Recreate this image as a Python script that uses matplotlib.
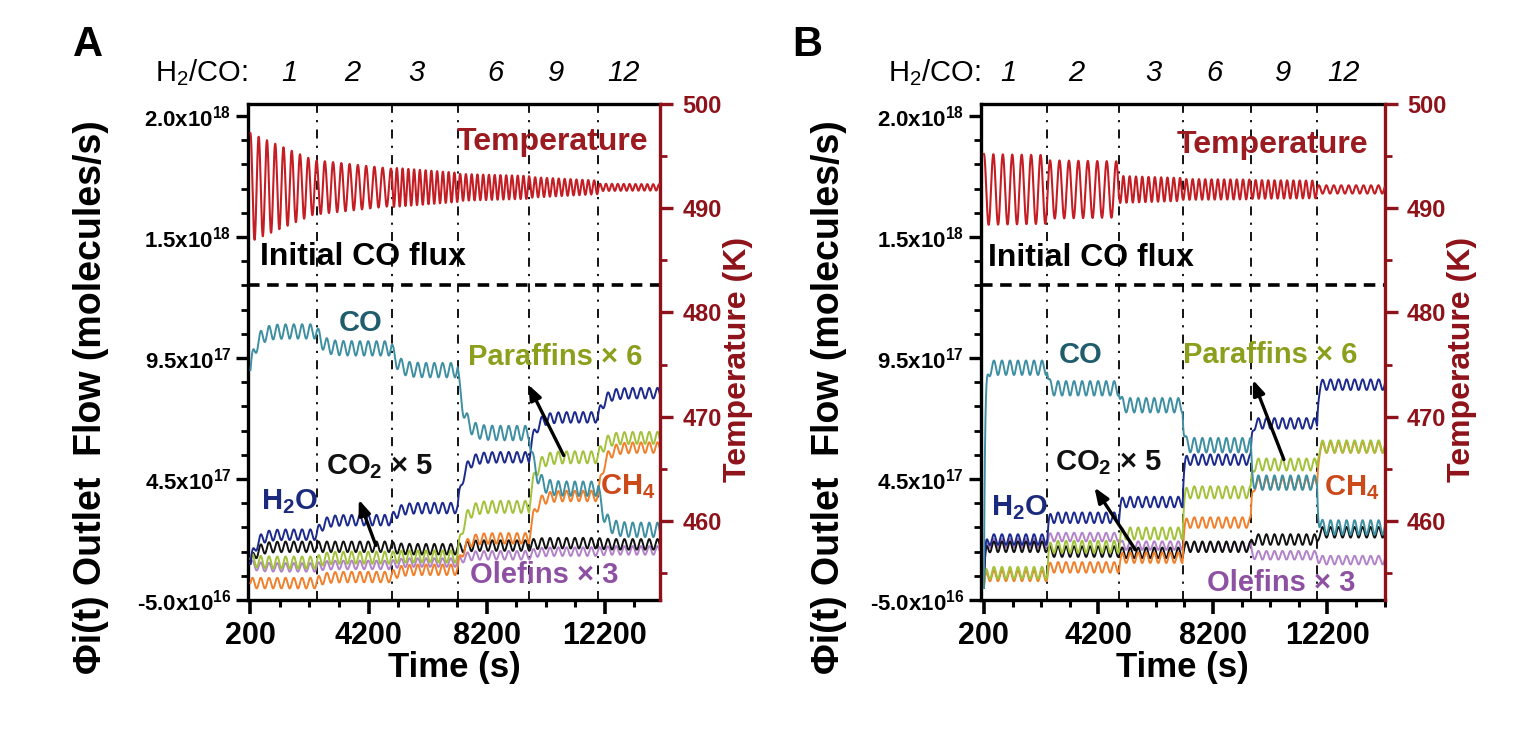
import numpy as np
import matplotlib
matplotlib.use('Agg')
import matplotlib.pyplot as plt
from matplotlib.ticker import FixedLocator
import matplotlib.transforms as mtransforms

plt.rcParams['font.family'] = ['Liberation Sans', 'DejaVu Sans']
plt.rcParams['font.weight'] = 'bold'
plt.rcParams['axes.labelweight'] = 'bold'
plt.rcParams['mathtext.default'] = 'regular'

# ---------------- data (flows in units of 1e17 molecules/s) ----------------
h2co_ratio = ['1', '2', '3', '6', '9', '12']
flow_ticks = [-0.5, 4.5, 9.5, 14.5, 19.5]
flow_tick_labels = ['-5.0x10$^{16}$', '4.5x10$^{17}$', '9.5x10$^{17}$',
                    '1.5x10$^{18}$', '2.0x10$^{18}$']
time_ticks = [200, 4200, 8200, 12200]
temp_ticks = [460, 470, 480, 490, 500]
initial_co_flux = 12.5

# panel A
edges_a = [200, 2440, 4980, 7220, 9640, 11980, 14075]
co_a = [10.6, 9.9, 9.0, 6.4, 4.1, 2.4]
h2o_a = [2.2, 2.8, 3.3, 5.4, 7.05, 8.05]
co2_a = [1.7, 1.7, 1.6, 1.75, 1.85, 1.8]
par_a = [1.05, 1.25, 1.3, 3.35, 5.4, 6.2]
ch4_a = [0.2, 0.45, 0.75, 2.05, 3.8, 5.8]
ole_a = [0.85, 0.95, 1.05, 1.35, 1.5, 1.55]
start_a = {'co': 9.0, 'h2o': 1.0, 'co2': 1.0, 'par': 1.2, 'ch4': 0.2, 'ole': 1.0}
temp_mean_a = 492.0
temp_amp_start_a = [5.2, 2.6, 1.9, 1.3, 1.0, 0.35]
temp_amp_end_a = [2.5, 1.8, 1.4, 1.1, 0.65, 0.3]
temp_period_a = [280, 280, 195, 195, 200, 200]

# panel B
edges_b = [200, 2410, 4920, 7140, 9520, 11840, 14207]
co_b = [9.1, 8.25, 7.55, 5.9, 4.35, 2.5]
h2o_b = [2.0, 2.9, 3.55, 5.3, 6.8, 8.4]
co2_b = [1.7, 1.5, 1.45, 1.7, 2.0, 2.3]
par_b = [0.62, 1.7, 2.25, 3.95, 5.1, 5.85]
ch4_b = [0.5, 0.85, 1.25, 2.7, 4.3, 5.8]
ole_b = [1.85, 2.1, 1.75, 1.7, 1.35, 1.15]
start_b = {'co': 0.0, 'h2o': 0.0, 'co2': 0.0, 'par': 0.0, 'ch4': 0.0, 'ole': 0.0}
temp_mean_b = 491.8
temp_amp_start_b = [3.4, 2.8, 1.3, 1.0, 0.9, 0.4]
temp_amp_end_b = [3.3, 2.7, 1.1, 0.95, 0.85, 0.4]
temp_period_b = [330, 330, 220, 220, 220, 260]

colors = {'co': '#3f8fa2', 'h2o': '#1b2a8c', 'co2': '#111111',
          'par': '#a2c23c', 'ch4': '#f0802c', 'ole': '#b383c9'}
temp_color = '#c41e24'
axis_red = '#8e1219'


def flow_trace(t, edges, start, levels, amp, period, tau):
    base = np.zeros_like(t)
    prev = start
    for i, lev in enumerate(levels):
        m = (t >= edges[i]) & (t <= edges[i + 1])
        base[m] = lev + (prev - lev) * np.exp(-(t[m] - edges[i]) / tau)
        prev = lev
    wave = amp * np.sin(2 * np.pi * (t - edges[0]) / period)
    return (base + wave) * 1e17


def temp_trace(t, edges, mean, amp0, amp1, period):
    amp = np.zeros_like(t)
    per = np.ones_like(t)
    for i in range(len(period)):
        m = (t >= edges[i]) & (t <= edges[i + 1])
        frac = (t[m] - edges[i]) / (edges[i + 1] - edges[i])
        amp[m] = amp0[i] + (amp1[i] - amp0[i]) * frac
        per[m] = period[i]
    phase = np.concatenate([[0], np.cumsum(2 * np.pi * np.diff(t) / per[1:])])
    return mean + amp * np.cos(phase)


fig = plt.figure(figsize=(15.18, 7.45), dpi=100)


def draw_panel(rect, letter, letter_xy, edges, series, starts, tau, temp, xlim,
               ratio_x, txt, ylabel_x, tlabel_x):
    ax = fig.add_axes(rect)
    t = np.arange(edges[0], edges[-1] + 1, 6.0)
    amps = {'co': 0.3, 'h2o': 0.22, 'co2': 0.22, 'par': 0.25, 'ch4': 0.22, 'ole': 0.18}
    for key in ['ole', 'co2', 'ch4', 'par', 'h2o', 'co']:
        y = flow_trace(t, edges, starts[key], series[key], amps[key], 280, tau)
        ax.plot(t, y, color=colors[key], lw=1.4, zorder=3)

    for x in edges[1:-1]:
        ax.axvline(x, color='black', lw=1.3, ls=(0, (5, 4, 1.2, 4)), zorder=2)
    ax.axhline(initial_co_flux * 1e17, color='black', lw=2.6, ls=(0, (3.2, 2.1)), zorder=4)

    ax.set_xlim(*xlim)
    ax.set_ylim(-0.5e17, 20.0e17)
    ax.set_xticks(time_ticks)
    ax.set_xticklabels([str(v) for v in time_ticks], fontsize=22)
    ax.xaxis.set_minor_locator(FixedLocator(np.arange(200, xlim[1], 1000)))
    ax.set_yticks(np.array(flow_ticks) * 1e17)
    ax.set_yticklabels(flow_tick_labels, fontsize=16)
    ax.yaxis.set_minor_locator(FixedLocator(np.arange(-0.5, 20.1, 1.0) * 1e17))
    ax.tick_params(axis='x', which='major', length=10, width=2.6, pad=5)
    ax.tick_params(axis='x', which='minor', length=5, width=2.2)
    ax.tick_params(axis='y', which='major', length=9, width=2.4, pad=3)
    ax.tick_params(axis='y', which='minor', length=5, width=2.0)
    for s in ['left', 'bottom', 'top']:
        ax.spines[s].set_linewidth(2.4)
    ax.spines['right'].set_visible(False)
    ax.set_xlabel('Time (s)', fontsize=25, fontweight='bold', labelpad=0)

    ax2 = ax.twinx()
    tt = np.arange(edges[0], edges[-1] + 1, 6.0)
    ax2.plot(tt, temp_trace(tt, edges, *temp), color=temp_color, lw=1.5, zorder=3)
    ax2.set_ylim(452.4, 500)
    ax2.set_yticks(temp_ticks)
    ax2.set_yticklabels([str(v) for v in temp_ticks], fontsize=17, color=axis_red)
    ax2.yaxis.set_minor_locator(FixedLocator([455, 465, 475, 485, 495]))
    ax2.tick_params(axis='y', which='major', length=9, width=2.4, color=axis_red, pad=7)
    ax2.tick_params(axis='y', which='minor', length=5, width=2.0, color=axis_red)
    ax2.spines['right'].set_color(axis_red)
    ax2.spines['right'].set_linewidth(2.4)
    for s in ['left', 'bottom', 'top']:
        ax2.spines[s].set_visible(False)

    # annotations
    ax.text(txt['temp'][0], txt['temp'][1] * 1e17, 'Temperature', color='#9b1b20',
            fontsize=23, ha='right', va='center', zorder=5)
    ax.text(txt['flux'][0], txt['flux'][1] * 1e17, 'Initial CO flux', color='black',
            fontsize=23, ha='left', va='center', zorder=5)
    labels = [('co', 'CO', '#1f5d6d'), ('h2o', 'H$_2$O', '#1b2a7c'),
              ('co2', 'CO$_2$ × 5', '#111111'), ('par', 'Paraffins × 6', '#8c9f1c'),
              ('ch4', 'CH$_4$', '#cc4a1a'), ('ole', 'Olefins × 3', '#8e50a2')]
    for key, s, c in labels:
        ax.text(txt[key][0], txt[key][1] * 1e17, s, color=c, fontsize=21,
                ha='center', va='center', zorder=5)
    for key in ['arr_co2', 'arr_par']:
        (x0, y0), (x1, y1) = txt[key]
        ax.annotate('', xy=(x1, y1 * 1e17), xytext=(x0, y0 * 1e17),
                    arrowprops=dict(arrowstyle='-|>,head_length=0.9,head_width=0.35',
                                    color='black', lw=2.4), zorder=6)

    # H2/CO ratios above the axes
    trans = mtransforms.blended_transform_factory(ax.transData, ax.transAxes)
    ax.text(0.0, 1.063, 'H$_2$/CO:', transform=ax.transAxes, ha='right', va='center',
            fontsize=21, fontweight='normal')
    for x, r in zip(ratio_x, h2co_ratio):
        ax.text(x, 1.063, r, transform=trans, ha='center', va='center', fontsize=21,
                fontweight='normal', style='italic')

    fig.text(letter_xy[0], letter_xy[1], letter, fontsize=30, ha='center', va='center')
    fig.text(ylabel_x, 0.467, 'Φi(t) Outlet  Flow (molecules/s)', rotation=90,
             fontsize=27, ha='center', va='center')
    fig.text(tlabel_x, 0.517, 'Temperature (K)', rotation=90, color=axis_red,
             fontsize=23, ha='center', va='center')


txt_a = {'temp': (13674, 18.42), 'flux': (515, 13.67), 'co': (3939, 10.95),
         'h2o': (1532, 3.55), 'co2': (4580, 5.0), 'par': (10516, 9.54),
         'ch4': (12994, 4.17), 'ole': (10143, 0.53),
         'arr_co2': ((4482, 1.65), (3838, 3.76)), 'arr_par': ((10854, 5.37), (9566, 8.51))}
txt_b = {'temp': (13613, 18.3), 'flux': (340, 13.63), 'co': (3588, 9.62),
         'h2o': (1457, 3.3), 'co2': (4566, 5.16), 'par': (10190, 9.62),
         'ch4': (13054, 4.13), 'ole': (10574, 0.2),
         'arr_co2': ((5544, 1.48), (4007, 4.25)), 'arr_par': ((10714, 5.2), (9561, 8.71))}

series_a = {'co': co_a, 'h2o': h2o_a, 'co2': co2_a, 'par': par_a, 'ch4': ch4_a, 'ole': ole_a}
series_b = {'co': co_b, 'h2o': h2o_b, 'co2': co2_b, 'par': par_b, 'ch4': ch4_b, 'ole': ole_b}

draw_panel([0.1634, 0.1946, 0.2714, 0.6658], 'A', (0.058, 0.940), edges_a, series_a,
           start_a, 200,
           (temp_mean_a, temp_amp_start_a, temp_amp_end_a, temp_period_a),
           (119, 14075), [1532, 3637, 5840, 8485, 10553, 12824], txt_a,
           0.060, 0.486)
draw_panel([0.6460, 0.1946, 0.2663, 0.6658], 'B', (0.532, 0.940), edges_b, series_b,
           start_b, 40,
           (temp_mean_b, temp_amp_start_b, temp_amp_end_b, temp_period_b),
           (85, 14207), [1038, 3414, 6138, 8269, 10644, 12761], txt_b,
           0.546, 0.963)

fig.savefig('out.png', dpi=100)
